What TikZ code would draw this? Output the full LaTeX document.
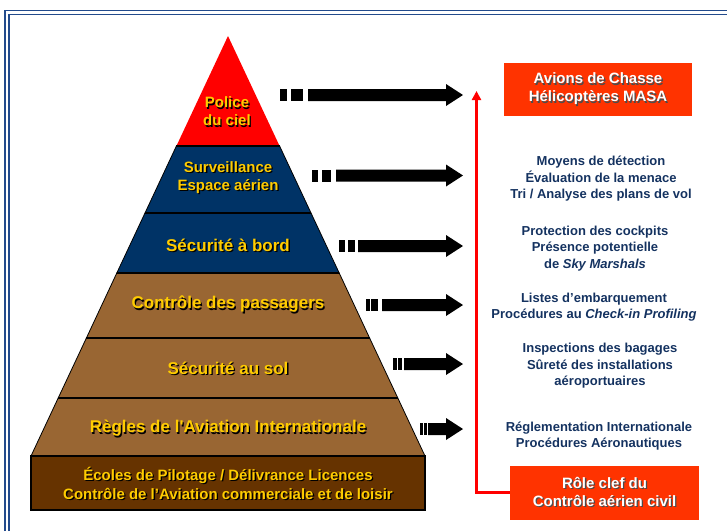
\documentclass[tikz,border=0pt]{standalone}
\usepackage{fontspec}
\setmainfont{Liberation Sans}
\usetikzlibrary{arrows.meta}
\definecolor{navyband}{RGB}{0,51,102}
\definecolor{brownband}{RGB}{153,102,51}
\definecolor{darkbrown}{RGB}{102,51,0}
\definecolor{goldtxt}{RGB}{255,204,0}
\definecolor{txtblue}{RGB}{20,50,96}
\definecolor{orangebox}{RGB}{255,51,0}
\definecolor{framec}{RGB}{35,75,140}
\newcommand\shd[2][black]{\leavevmode\rlap{\kern1.3pt\raisebox{-1.3pt}{\textcolor{#1}{#2}}}#2}
\newcommand\barrow[6]{%
  \fill ({#2},{#1-6}) rectangle ({#3},{#1+6});
  \fill ({#4},{#1-6}) rectangle ({#5},{#1+6});
  \fill ({#6},{#1-6}) -- (446,{#1-6}) -- (446,{#1-11}) -- (463,{#1}) -- (446,{#1+11}) -- (446,{#1+6}) -- ({#6},{#1+6}) -- cycle;}
\begin{document}
\begin{tikzpicture}[x=1pt,y=-1pt,
  pyrlabel/.style={text=goldtxt, font=\bfseries\fontsize{17}{19}\selectfont, align=center, inner sep=0},
  pyrsmall/.style={pyrlabel, font=\bfseries\fontsize{15}{18}\selectfont},
  sidetext/.style={text=txtblue, font=\bfseries\fontsize{13}{16.5}\selectfont, align=center, inner sep=0},
  obox/.style={fill=orangebox, text=white, font=\bfseries\fontsize{15}{18}\selectfont, align=center, inner sep=0},
  band/.style={draw=black, line width=0.8pt},
  sep/.style={draw=black, line width=2pt}]
\useasboundingbox (0,0) rectangle (727,531);
% frame
\draw[framec, line width=1.5pt] (5,531) -- (5,10.5) -- (727,10.5);
\draw[framec, line width=1.5pt] (9,531) -- (9,14.5) -- (727,14.5);
% pyramid
\fill[red] (228,36) -- (279.6,146) -- (176.4,146) -- cycle;
\filldraw[band, fill=navyband] (176.4,146) -- (279.6,146) -- (311.0,213) -- (145.0,213) -- cycle;
\filldraw[band, fill=navyband] (145.0,213) -- (311.0,213) -- (339.2,273) -- (116.8,273) -- cycle;
\filldraw[band, fill=brownband] (116.8,273) -- (339.2,273) -- (369.6,338) -- (86.4,338) -- cycle;
\filldraw[band, fill=brownband] (86.4,338) -- (369.6,338) -- (397.8,398) -- (58.2,398) -- cycle;
\filldraw[band, fill=brownband] (58.2,398) -- (397.8,398) -- (425,456) -- (31,456) -- cycle;
\draw[sep] (176.4,146) -- (279.6,146);
\draw[sep] (145.0,213) -- (311.0,213);
\draw[sep] (116.8,273) -- (339.2,273);
\draw[sep] (86.4,338) -- (369.6,338);
\draw[sep] (58.2,398) -- (397.8,398);
\filldraw[fill=darkbrown, draw=black, line width=2pt] (31,456) rectangle (425,510);
% pyramid labels
\node[pyrsmall] (police) at (227,112) {\shd{Police}\\\shd{du ciel}};
\node[pyrsmall] (surv) at (228,178) {\shd{Surveillance}\\\shd{Espace aérien}};
\node[pyrlabel] (bord) at (228,246) {\shd{Sécurité à bord}};
\node[pyrlabel] (pass) at (228,305) {\shd{Contrôle des passagers}};
\node[pyrlabel] (sol) at (228,369) {\shd{Sécurité au sol}};
\node[pyrlabel] (regles) at (228,429) {\shd{Règles de l\textquotesingle Aviation Internationale}};
\node[pyrsmall, font=\bfseries\fontsize{15}{19}\selectfont] (ecoles) at (228,484) {\shd{Écoles de Pilotage / Délivrance Licences}\\\shd{Contrôle de l’Aviation commerciale et de loisir}};
% black arrows
\barrow{95}{280}{287}{291}{303}{308}
\barrow{175.5}{312}{318}{322}{331}{336}
\barrow{246}{339}{345}{348}{355}{358}
\barrow{305}{366}{369.5}{371}{378}{382}
\barrow{364}{393}{397}{398}{402}{404}
\barrow{429}{420}{423}{424}{427}{428}
% right side
\node[obox, minimum width=188pt, minimum height=53pt] (avions) at (598,89.5) {\shd[black!70]{Avions de Chasse}\\\shd[black!70]{Hélicoptères MASA}};
\node[sidetext] (t1) at (601,179) {Moyens de détection\\Évaluation de la menace\\Tri / Analyse des plans de vol};
\node[sidetext] (t2) at (595,248.5) {Protection des cockpits\\Présence potentielle\\de \textit{Sky Marshals}};
\node[sidetext] (t3) at (594,307) {Listes d’embarquement\\Procédures au \textit{Check-in Profiling}};
\node[sidetext] (t4) at (600,366) {Inspections des bagages\\Sûreté des installations\\aéroportuaires};
\node[sidetext] (t5) at (599,436) {Réglementation Internationale\\Procédures Aéronautiques};
\node[obox, minimum width=189pt, minimum height=54pt] (role) at (604.5,492.5) {\shd[black!70]{Rôle clef du}\\\shd[black!70]{Contrôle aérien civil}};
\coordinate (redtip) at (476.5,91);
\draw[red, line width=3pt, -{Triangle[length=9pt,width=9pt]}] (role.west) -| (redtip);
\end{tikzpicture}
\end{document}
